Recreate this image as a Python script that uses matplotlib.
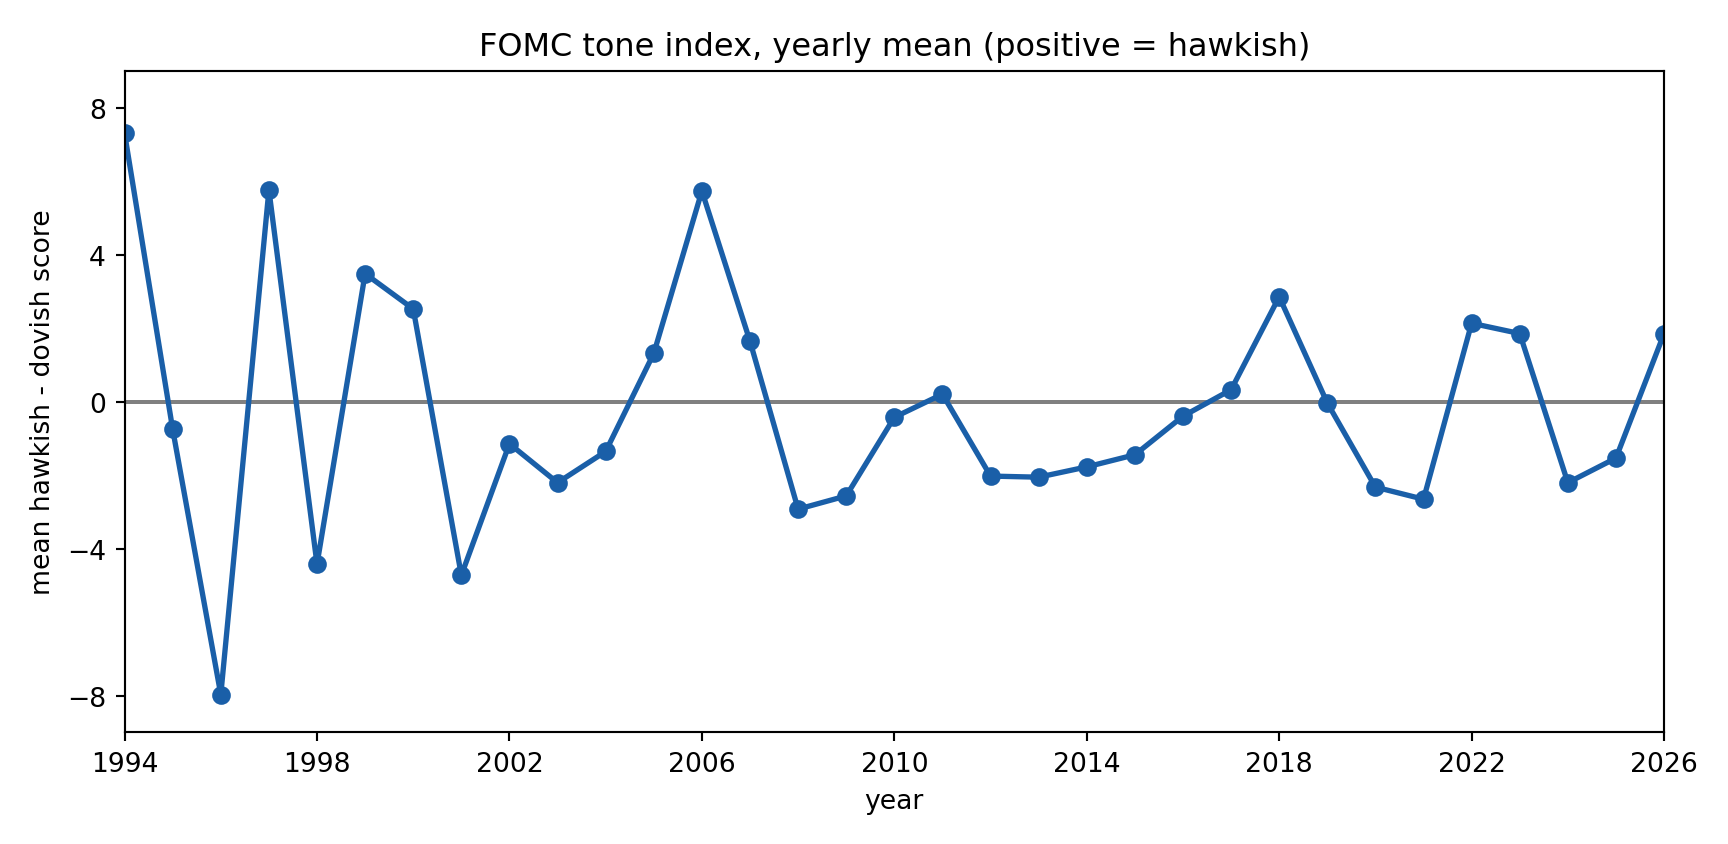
import matplotlib
matplotlib.use("Agg")
import matplotlib.pyplot as plt

# 연도별 평균 톤 지수
years = list(range(1994, 2027))
tone = [7.31, -0.75, -7.97, 5.77, -4.42, 3.49, 2.53, -4.72, -1.14, -2.20,
        -1.35, 1.32, 5.74, 1.65, -2.92, -2.56, -0.42, 0.21, -2.02, -2.05,
        -1.77, -1.44, -0.39, 0.33, 2.86, -0.03, -2.32, -2.65, 2.14, 1.86,
        -2.20, -1.53, 1.86]
xticks = list(range(1994, 2027, 4))
yticks = [-8, -4, 0, 4, 8]

fig, ax = plt.subplots(figsize=(9, 4.4), dpi=192)
ax.axhline(0, color="gray", linewidth=1.5)
ax.plot(years, tone, color="#1a5fa8", linewidth=2, marker="o", markersize=6)
ax.set_xlim(1994, 2026)
ax.set_ylim(-9, 9)
ax.set_xticks(xticks)
ax.set_yticks(yticks)
ax.set_xlabel("year")
ax.set_ylabel("mean hawkish - dovish score")
ax.set_title("FOMC tone index, yearly mean (positive = hawkish)")
fig.subplots_adjust(left=0.0721, right=0.963, top=0.9147, bottom=0.132)
fig.savefig("out.png", dpi=192)
